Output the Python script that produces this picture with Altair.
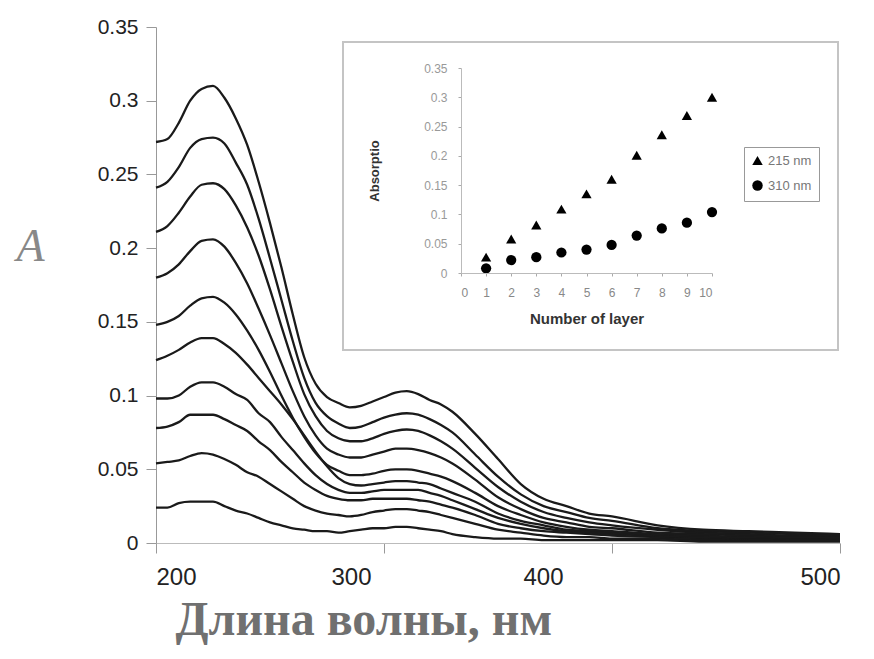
import altair as alt
import pandas as pd

# ---------------- main spectra (wavelength, nm) ----------------
wavelengths = [200, 205, 210, 215, 220, 225, 230, 235, 240, 245, 250, 255, 260, 265, 270,
               275, 280, 285, 290, 295, 300, 305, 310, 315, 320, 325, 330, 340, 350, 360,
               370, 380, 390, 400, 420, 440, 460, 480, 500]

c1 = [.024, .024, .027, .028, .028, .028, .025, .022, .020, .017, .014, .012, .010, .009, .008,
      .008, .007, .008, .009, .010, .010, .011, .011, .010, .009, .008, .006, .004, .003, .003,
      .002, .002, .002, .002, .002, .001, .001, .001, .001]
c2 = [.054, .055, .056, .059, .061, .060, .057, .053, .048, .045, .040, .035, .030, .025, .022,
      .020, .019, .018, .019, .021, .022, .023, .023, .022, .021, .019, .017, .013, .009, .007,
      .005, .004, .004, .003, .003, .002, .002, .002, .002]
c3 = [.078, .079, .082, .087, .087, .087, .084, .080, .076, .069, .063, .055, .048, .041, .036,
      .032, .030, .029, .029, .030, .030, .030, .030, .029, .028, .026, .024, .019, .013, .010,
      .008, .007, .006, .005, .004, .003, .003, .002, .002]
c4 = [.098, .098, .100, .106, .109, .109, .106, .101, .097, .088, .082, .072, .063, .054, .046,
      .040, .036, .034, .034, .035, .036, .036, .036, .036, .034, .032, .029, .023, .017, .013,
      .010, .008, .007, .006, .005, .004, .003, .003, .003]
c5 = [.124, .127, .131, .136, .139, .139, .135, .129, .121, .112, .103, .094, .084, .073, .062,
      .052, .044, .040, .039, .040, .041, .042, .042, .041, .040, .037, .034, .028, .020, .015,
      .012, .009, .008, .007, .005, .004, .004, .003, .003]
c6 = [.148, .150, .154, .161, .166, .167, .163, .155, .144, .131, .116, .100, .085, .072, .061,
      .053, .049, .046, .046, .047, .049, .050, .050, .049, .047, .045, .042, .034, .025, .019,
      .014, .011, .009, .008, .006, .005, .004, .004, .003]
c7 = [.180, .183, .189, .198, .205, .206, .201, .190, .176, .159, .141, .122, .103, .086, .073,
      .064, .060, .058, .058, .060, .062, .064, .064, .063, .061, .058, .054, .043, .031, .023,
      .017, .014, .011, .010, .007, .006, .005, .004, .004]
c8 = [.211, .215, .224, .235, .243, .244, .240, .229, .214, .195, .172, .147, .123, .101, .086,
      .076, .071, .069, .069, .071, .074, .076, .077, .076, .073, .069, .064, .051, .038, .028,
      .021, .017, .014, .012, .009, .007, .006, .005, .005]
c9 = [.241, .245, .255, .268, .274, .275, .271, .258, .243, .220, .193, .165, .137, .112, .095,
      .086, .081, .078, .079, .082, .085, .087, .088, .087, .084, .080, .075, .060, .045, .033,
      .025, .021, .017, .015, .010, .008, .007, .006, .005]
c10 = [.272, .274, .285, .300, .308, .310, .302, .288, .270, .245, .217, .187, .155, .126, .108,
       .099, .095, .092, .093, .096, .099, .102, .103, .101, .097, .094, .089, .074, .057, .040,
       .030, .025, .020, .018, .012, .009, .008, .007, .006]
curves = [c1, c2, c3, c4, c5, c6, c7, c8, c9, c10]

main_x_ticks = [200, 300, 400, 500]
main_y_ticks = [0, 0.05, 0.1, 0.15, 0.2, 0.25, 0.3, 0.35]

# ---------------- inset ----------------
layers = [1, 2, 3, 4, 5, 6, 7, 8, 9, 10]
abs_215 = [0.027, 0.058, 0.082, 0.109, 0.135, 0.160, 0.201, 0.236, 0.269, 0.300]
abs_310 = [0.008, 0.022, 0.027, 0.035, 0.040, 0.048, 0.064, 0.076, 0.086, 0.104]
series_names = ["215 nm", "310 nm"]
inset_x_ticks = [0, 1, 2, 3, 4, 5, 6, 7, 8, 9, 10]
inset_y_ticks = [0, 0.05, 0.1, 0.15, 0.2, 0.25, 0.3, 0.35]

rows = []
for i, vals in enumerate(curves, 1):
    for w, v in zip(wavelengths, vals):
        rows.append({"wl": w, "A": v, "curve": i})
spec_df = pd.DataFrame(rows)

irows = []
for name, vals in zip(series_names, [abs_215, abs_310]):
    for L, v in zip(layers, vals):
        irows.append({"layer": L, "abs": v, "series": name})
inset_df = pd.DataFrame(irows)

lines = alt.Chart(spec_df).mark_line(
    color="#1a1a1a", strokeWidth=2.3, interpolate="monotone"
).encode(
    x=alt.X("wl:Q",
            scale=alt.Scale(domain=[200, 500], nice=False, zero=False),
            axis=alt.Axis(values=main_x_ticks, tickSize=10, labelPadding=12,
                          labelFont="Liberation Sans", labelFontSize=24, labelColor="#222",
                          labelOffset={"condition": [
                              {"test": "datum.value == 300", "value": -33},
                              {"test": "datum.value == 400", "value": -69}],
                              "value": 0},
                          domainColor="#bbbbbb", tickColor="#999999", grid=False,
                          title="Длина волны, нм", titleFont="Liberation Serif",
                          titleFontSize=48, titleFontWeight="bold", titleColor="#707070",
                          titleAnchor="start", titleAlign="left", titleX=19, titleY=91,
                          titleBaseline="alphabetic")),
    y=alt.Y("A:Q",
            scale=alt.Scale(domain=[0, 0.35], nice=False),
            axis=alt.Axis(values=main_y_ticks, format="~g", tickSize=10, labelPadding=8,
                          labelFont="Liberation Sans", labelFontSize=21, labelColor="#222",
                          domainColor="#999999", tickColor="#999999", grid=False,
                          title="A", titleAngle=0, titleFont="Liberation Serif",
                          titleFontStyle="italic", titleFontWeight="normal",
                          titleFontSize=46, titleColor="#888888",
                          titleX=-126, titleY=219, titleAlign="center",
                          titleBaseline="middle")),
    detail="curve:N",
)

box = alt.Chart(pd.DataFrame({"k": [0]})).mark_rect(
    fill="white", stroke="#c4c4c4", strokeWidth=2
).encode(
    x=alt.value(187), x2=alt.value(682), y=alt.value(15), y2=alt.value(323)
)

inset = alt.Chart(inset_df).mark_point(filled=True, opacity=1, color="black", size=105).encode(
    x=alt.X("layer:Q",
            scale=alt.Scale(domain=[0, 10], range=[305, 556], nice=False, zero=False),
            axis=alt.Axis(orient="bottom", offset=-270, values=inset_x_ticks, zindex=2,
                          tickSize=3, labelPadding=11, labelFont="Liberation Sans",
                          labelFontSize=12, labelColor="#888888",
                          domainColor="#bbbbbb", tickColor="#aaaaaa", grid=False,
                          title="Number of layer", titleFont="Liberation Sans",
                          titleFontSize=15, titleFontWeight="bold", titleColor="#333333",
                          titlePadding=13)),
    y=alt.Y("abs:Q",
            scale=alt.Scale(domain=[0, 0.35], range=[246, 41], nice=False),
            axis=alt.Axis(orient="left", offset=-305, values=inset_y_ticks, format="~g",
                          zindex=2,
                          tickSize=3, labelPadding=11, labelFont="Liberation Sans",
                          labelFontSize=12, labelColor="#999999",
                          domainColor="#bbbbbb", tickColor="#aaaaaa", grid=False,
                          title="Absorptio", titleFont="Liberation Sans",
                          titleFontSize=13, titleFontWeight="bold", titleColor="#333333",
                          titlePadding=42)),
    shape=alt.Shape("series:N",
                    scale=alt.Scale(domain=series_names, range=["triangle-up", "circle"]),
                    legend=alt.Legend(orient="none", legendX=588, legendY=120, title=None,
                                      strokeColor="#999999", fillColor="white", padding=7,
                                      labelFont="Liberation Sans", labelFontSize=13,
                                      labelColor="#777777", symbolSize=110,
                                      symbolFillColor="black", symbolStrokeColor="black",
                                      rowPadding=8)),
)

chart = alt.layer(lines, box, inset).resolve_scale(
    x="independent", y="independent"
).properties(
    width=684, height=516,
    padding={"left": 148, "top": 19, "right": 26, "bottom": 110},
    autosize=alt.AutoSizeParams(type="none"),
).configure_view(stroke=None)

chart.save("out.html", embed_options={"renderer": "svg", "actions": False})
